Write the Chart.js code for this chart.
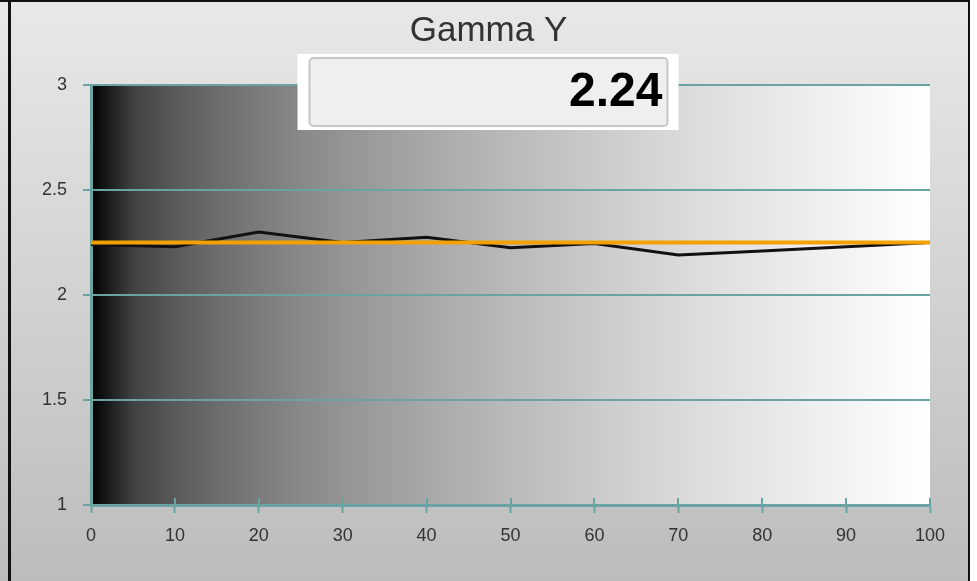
<!DOCTYPE html>
<html>
<head>
<meta charset="utf-8">
<script src="https://cdn.jsdelivr.net/npm/chart.js@4.4.1/dist/chart.umd.min.js"></script>
<style>
  html, body { margin: 0; padding: 0; background: #ffffff; }
  canvas { display: block; }
</style>
</head>
<body>
<canvas id="gamma-chart" width="977" height="581"></canvas>
<script>
// stimulus level (% white)
const levels = [0, 10, 20, 30, 40, 50, 60, 70, 80, 90, 100];
// measured gamma per level
const gammaY = [2.24, 2.23, 2.30, 2.25, 2.275, 2.225, 2.245, 2.19, 2.21, 2.23, 2.25];
// target gamma
const target = [2.25, 2.25, 2.25, 2.25, 2.25, 2.25, 2.25, 2.25, 2.25, 2.25, 2.25];
const titleText = 'Gamma Y';
const averageText = '2.24';

const teal = '#6aa3a3';
const labelFont = { family: '"Liberation Sans", Arial, sans-serif', size: 18 };

// frame, grey backdrop and black-to-white ramp behind the plot
const backdrop = {
  id: 'backdrop',
  beforeDraw(chart) {
    const { ctx, width, height, chartArea } = chart;
    ctx.save();
    const bg = ctx.createLinearGradient(0, 0, 0, height);
    bg.addColorStop(0, '#e8e8e8');
    bg.addColorStop(1, '#bcbcbc');
    ctx.fillStyle = bg;
    ctx.fillRect(0, 0, width, height);

    const ramp = ctx.createLinearGradient(chartArea.left, 0, chartArea.right, 0);
    for (let i = 0; i <= 20; i++) {
      const t = i / 20;
      const v = Math.round(255 * Math.pow(t, 1 / 2.2));
      ramp.addColorStop(t, `rgb(${v},${v},${v})`);
    }
    ctx.fillStyle = ramp;
    ctx.fillRect(chartArea.left, chartArea.top, chartArea.right - chartArea.left, chartArea.bottom - chartArea.top);

    // black frame lines
    ctx.fillStyle = '#111';
    ctx.fillRect(0, 0, width - 7, 2);
    ctx.fillRect(8, 0, 3, height);
    ctx.fillRect(width - 9, 0, 2, height);
    ctx.fillStyle = '#ffffff';
    ctx.fillRect(width - 7, 0, 7, height);
    ctx.restore();
  },
  beforeDatasetsDraw(chart) {
    // tick marks crossing into the plot
    const { ctx, scales: { x, y } } = chart;
    ctx.save();
    ctx.strokeStyle = teal;
    ctx.lineWidth = 2;
    ctx.beginPath();
    x.ticks.forEach((t, i) => {
      const px = Math.round(x.getPixelForTick(i));
      ctx.moveTo(px, y.bottom);
      ctx.lineTo(px, y.bottom - 7);
    });
    y.ticks.forEach((t, i) => {
      const py = Math.round(y.getPixelForTick(i));
      ctx.moveTo(x.left, py);
      ctx.lineTo(x.left + 7, py);
    });
    ctx.stroke();
    ctx.restore();
  },
  afterDraw(chart) {
    // average value box
    const { ctx, width } = chart;
    const cx = width / 2;
    ctx.save();
    ctx.fillStyle = '#ffffff';
    ctx.fillRect(cx - 191, 54, 381, 76);
    ctx.fillStyle = '#efefef';
    ctx.strokeStyle = '#c6c6cc';
    ctx.lineWidth = 2;
    ctx.beginPath();
    ctx.roundRect(cx - 179, 58, 358, 68, 4);
    ctx.fill();
    ctx.stroke();
    ctx.fillStyle = '#000';
    ctx.font = 'bold 48px "Liberation Sans", Arial, sans-serif';
    ctx.textAlign = 'right';
    ctx.textBaseline = 'middle';
    ctx.fillText(averageText, cx + 174, 93);
    ctx.restore();
  }
};

const ctx = document.getElementById('gamma-chart').getContext('2d');
const gammaChart = new Chart(ctx, {
  type: 'line',
  data: {
    datasets: [{
      label: 'Target',
      data: levels.map((l, i) => ({ x: l, y: target[i] })),
      borderColor: '#f2a100',
      borderWidth: 4,
      pointRadius: 0,
      order: 0
    }, {
      label: 'Gamma Y',
      data: levels.map((l, i) => ({ x: l, y: gammaY[i] })),
      borderColor: '#111111',
      borderWidth: 3,
      pointRadius: 0,
      order: 1
    }]
  },
  options: {
    responsive: false,
    animation: false,
    layout: { padding: 0 },
    scales: {
      x: {
        type: 'linear',
        min: 0,
        max: 100,
        afterFit: (scale) => { scale.height = 76; },
        grid: {
          drawOnChartArea: false,
          drawTicks: true,
          tickLength: 8,
          tickWidth: 2,
          tickColor: teal
        },
        border: { color: teal, width: 3 },
        ticks: {
          stepSize: 10,
          padding: 12,
          color: '#333',
          font: labelFont
        }
      },
      y: {
        min: 1,
        max: 3,
        afterFit: (scale) => { scale.width = 91; },
        grid: {
          color: teal,
          lineWidth: 2,
          tickLength: 8,
          tickWidth: 2,
          tickColor: teal
        },
        border: { color: teal, width: 3 },
        ticks: {
          stepSize: 0.5,
          padding: 16,
          color: '#333',
          font: labelFont,
          callback: (v) => String(v)
        }
      },
      // empty right-hand strip so the title stays centred on the canvas
      spacer: {
        type: 'linear',
        position: 'right',
        afterFit: (scale) => { scale.width = 47; },
        grid: { display: false },
        border: { display: false },
        ticks: { display: false }
      }
    },
    plugins: {
      legend: { display: false },
      tooltip: { enabled: false },
      title: {
        display: true,
        text: titleText,
        color: '#333',
        font: { family: '"Liberation Sans", Arial, sans-serif', size: 35, weight: 'normal', lineHeight: 1.2 },
        padding: { top: 10, bottom: 33 }
      }
    }
  },
  plugins: [backdrop]
});
</script>
</body>
</html>
